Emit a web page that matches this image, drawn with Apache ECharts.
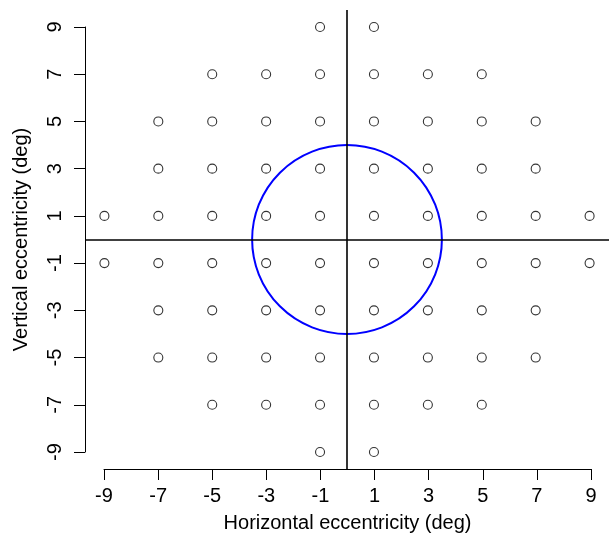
<!DOCTYPE html>
<html style="height: 100%">
<head>
<meta charset="utf-8">
<script src="https://cdn.jsdelivr.net/npm/echarts@6/dist/echarts.min.js"></script>
</head>
<body style="height: 100%; margin: 0; width: 100%; background: #fff;">
<div id="container" style="height: 535px; width: 609px;"></div>
<script type="text/javascript">
// test grid rows (y) and the x positions present in each row
var rowY = [9, 7, 5, 3, 1, -1, -3, -5, -7, -9];
var rowX = [
    [-1, 1],
    [-5, -3, -1, 1, 3, 5],
    [-7, -5, -3, -1, 1, 3, 5, 7],
    [-7, -5, -3, -1, 1, 3, 5, 7],
    [-9, -7, -5, -3, -1, 1, 3, 5, 7, 9],
    [-9, -7, -5, -3, -1, 1, 3, 5, 7, 9],
    [-7, -5, -3, -1, 1, 3, 5, 7],
    [-7, -5, -3, -1, 1, 3, 5, 7],
    [-5, -3, -1, 1, 3, 5],
    [-1, 1]
];
// ellipse (centre x, centre y, radius x, radius y)
var ring = [0, 0, 3.52, 4];
var plotMin = -9.72, plotMax = 9.72;

var points = [];
rowY.forEach(function (y, i) {
    rowX[i].forEach(function (x) { points.push([x, y]); });
});

var font = 'Liberation Sans, Arial, Helvetica, sans-serif';
var dom = document.getElementById('container');
var myChart = echarts.init(dom);

var option = {
    backgroundColor: '#fff',
    animation: false,
    grid: [
        {left: 85, right: 0, top: 10, bottom: 66, outerBoundsMode: 'none'},
        {left: 104, right: 18, top: 10, bottom: 66, outerBoundsMode: 'none'},
        {left: 85, right: 0, top: 27, bottom: 83, outerBoundsMode: 'none'}
    ],
    xAxis: [
        {gridIndex: 0, type: 'value', min: plotMin, max: plotMax, show: false},
        {
            gridIndex: 1, type: 'value', min: -9, max: 9, interval: 2,
            position: 'bottom',
            axisLine: {show: true, onZero: false, lineStyle: {color: '#000', width: 1}},
            axisTick: {show: true, length: 11, lineStyle: {color: '#000', width: 1}},
            axisLabel: {color: '#000', fontSize: 20, fontFamily: font, margin: 17},
            splitLine: {show: false},
            name: 'Horizontal eccentricity (deg)',
            nameLocation: 'middle',
            nameGap: 44,
            nameTextStyle: {color: '#000', fontSize: 20, fontFamily: font}
        },
        {gridIndex: 2, type: 'value', min: plotMin, max: plotMax, show: false}
    ],
    yAxis: [
        {gridIndex: 0, type: 'value', min: plotMin, max: plotMax, show: false},
        {gridIndex: 1, type: 'value', min: plotMin, max: plotMax, show: false},
        {
            gridIndex: 2, type: 'value', min: -9, max: 9, interval: 2,
            position: 'left',
            axisLine: {show: true, onZero: false, lineStyle: {color: '#000', width: 1}},
            axisTick: {show: true, length: 11, lineStyle: {color: '#000', width: 1}},
            axisLabel: {color: '#000', fontSize: 20, fontFamily: font, rotate: 90, margin: 20},
            splitLine: {show: false},
            name: 'Vertical eccentricity (deg)',
            nameLocation: 'middle',
            nameGap: 54,
            nameTextStyle: {color: '#000', fontSize: 20, fontFamily: font}
        }
    ],
    series: [
        {
            type: 'scatter',
            xAxisIndex: 0, yAxisIndex: 0,
            symbol: 'circle',
            symbolSize: 9,
            itemStyle: {color: 'rgba(0,0,0,0)', borderColor: '#000', borderWidth: 1.1},
            data: points,
            markLine: {
                silent: true,
                symbol: ['none', 'none'],
                label: {show: false},
                lineStyle: {color: '#000', width: 1.6, type: 'solid'},
                data: [{xAxis: 0}, {yAxis: 0}]
            }
        },
        {
            type: 'custom',
            xAxisIndex: 0, yAxisIndex: 0,
            data: [ring],
            renderItem: function (params, api) {
                var c = api.coord([api.value(0), api.value(1)]);
                var s = api.size([api.value(2), api.value(3)]);
                return {
                    type: 'group',
                    children: [{
                        type: 'path',
                        shape: {
                            pathData: 'M ' + (c[0] - s[0]) + ' ' + c[1] +
                                ' A ' + s[0] + ' ' + s[1] + ' 0 1 0 ' + (c[0] + s[0]) + ' ' + c[1] +
                                ' A ' + s[0] + ' ' + s[1] + ' 0 1 0 ' + (c[0] - s[0]) + ' ' + c[1] + ' Z'
                        },
                        style: {fill: 'none', stroke: '#0000ff', lineWidth: 2}
                    }]
                };
            }
        }
    ]
};

myChart.setOption(option, true);
</script>
</body>
</html>
